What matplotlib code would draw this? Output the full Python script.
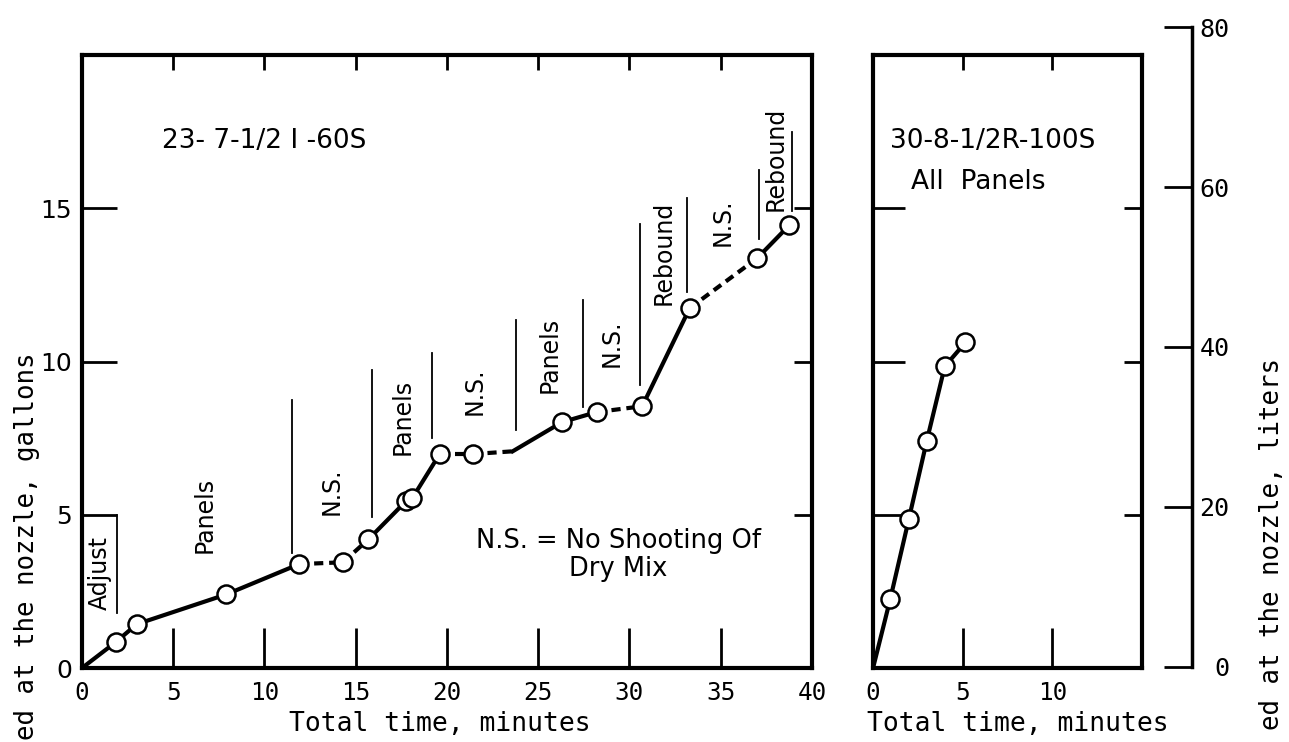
import matplotlib.pyplot as plt
from matplotlib.ticker import FixedLocator

# left panel, mix 23-7-1/2 I-60S : readings (minutes, gallons)
left_t = [1.86, 3.0, 7.9, 11.9, 14.3, 15.7, 17.75, 18.1, 19.6, 21.4,
          26.3, 28.2, 30.7, 33.3, 37.0, 38.75]
left_gal = [0.85, 1.43, 2.4, 3.39, 3.45, 4.2, 5.44, 5.54, 6.98, 6.98,
            8.02, 8.35, 8.54, 11.74, 13.37, 14.44]
# shooting resumed here, line bends without a reading
resume_t, resume_gal = 23.6, 7.07

# right panel, mix 30-8-1/2R-100S
right_t = [0.96, 2.0, 3.0, 4.0, 5.15]
right_gal = [2.25, 4.87, 7.42, 9.84, 10.62]

# phases of the left run: name, end time, extent of the divider line
phase_names = ["Adjust", "Panels", "N.S.", "Panels", "N.S.", "Panels",
               "N.S.", "Rebound", "N.S.", "Rebound"]
phase_end = [1.92, 11.5, 15.9, 19.2, 23.8, 27.45, 30.6, 33.15, 37.1, 38.9]
divider_lo = [1.8, 3.75, 4.92, 7.5, 7.76, 8.51, 9.23, 12.26, 14.0, 14.9]
divider_hi = [5.0, 8.74, 9.72, 10.27, 11.35, 12.0, 14.5, 15.32, 16.24, 17.48]

liters_ticks = [0, 20, 40, 60, 80]

# where the phase names sit (gallons)
label_gal = [3.1, 5.0, 5.77, 8.18, 9.03, 10.2, 10.6, 13.53, 14.54, 16.6]

MONO = "DejaVu Sans Mono"
SANS = "DejaVu Sans"


def phase_at(t):
    for name, end in zip(phase_names, phase_end):
        if t <= end:
            return name
    return phase_names[-1]


def draw_run(ax, t, g, use_phases):
    for i in range(len(t) - 1):
        ns = use_phases and phase_at((t[i] + t[i + 1]) / 2) == "N.S."
        ax.plot(t[i:i + 2], g[i:i + 2], color="k", lw=3,
                ls=(0, (2.2, 1.4)) if ns else "-", zorder=2)


def style_panel(ax, xmax, xticks, ylabels):
    ax.set_xlim(0, xmax)
    ax.set_ylim(0, 20)
    for s in ax.spines.values():
        s.set_linewidth(3)
    ax.xaxis.remove_overlapping_locs = False
    ax.yaxis.remove_overlapping_locs = False
    inner = [x for x in xticks if 0 < x < xmax]
    ax.set_xticks(xticks)
    ax.xaxis.set_minor_locator(FixedLocator(inner))
    ax.set_yticks([0, 5, 10, 15] if ylabels else [5, 10, 15])
    ax.yaxis.set_minor_locator(FixedLocator([5, 10, 15]))
    ax.tick_params(axis="x", which="major", direction="in", length=29,
                   width=2, bottom=True, top=False, pad=9, labelsize=17.5)
    ax.tick_params(axis="x", which="minor", direction="in", length=11,
                   width=2, bottom=False, top=True)
    ax.tick_params(axis="y", which="major", direction="in",
                   length=25 if ylabels else 23, width=2, left=True,
                   right=False, pad=7, labelsize=18, labelleft=ylabels)
    ax.tick_params(axis="y", which="minor", direction="in", length=13,
                   width=2, left=False, right=True)
    for lab in ax.get_xticklabels():
        lab.set_family(MONO)
    for lab in ax.get_yticklabels():
        lab.set_family(SANS)
    ax.set_xlabel("Total time, minutes", family=MONO, fontsize=19, labelpad=2)


fig = plt.figure(figsize=(12.89, 7.42), dpi=100)
axL = fig.add_axes([0.0636, 0.0997, 0.5663, 0.8262])
axR = fig.add_axes([0.6773, 0.0997, 0.2087, 0.8262])

# left panel
line_t = sorted([0] + left_t + [resume_t])
line_g = [0] + left_gal[:10] + [resume_gal] + left_gal[10:]
draw_run(axL, line_t, line_g, True)
axL.plot(left_t, left_gal, "o", ms=13, mfc="white", mec="k", mew=1.8, zorder=3)

start = 0
for name, end, lo, hi, yg in zip(phase_names, phase_end, divider_lo,
                                 divider_hi, label_gal):
    axL.plot([end, end], [lo, hi], color="k", lw=1.3, zorder=1)
    axL.text((start + end) / 2, yg, name, rotation=90, ha="center",
             va="center", family=SANS, fontsize=17)
    start = end

axL.text(4.4, 17.2, "23- 7-1/2 I -60S", family=SANS, fontsize=19,
         ha="left", va="center")
axL.text(29.4, 3.7, "N.S. = No Shooting Of\nDry Mix", family=SANS,
         fontsize=18.5, ha="center", va="center", linespacing=1.1)
style_panel(axL, 40, list(range(0, 41, 5)), True)
axL.xaxis.set_label_coords(0.49, -0.07)

# right panel
draw_run(axR, [0] + right_t, [0] + right_gal, False)
axR.plot(right_t, right_gal, "o", ms=13, mfc="white", mec="k", mew=1.8, zorder=3)
axR.text(0.95, 17.2, "30-8-1/2R-100S", family=SANS, fontsize=19,
         ha="left", va="center")
axR.text(2.1, 15.85, "All  Panels", family=SANS, fontsize=19,
         ha="left", va="center")
style_panel(axR, 15, [0, 5, 10], False)
axR.xaxis.set_label_coords(0.54, -0.07)

# liters scale
axLit = fig.add_axes([1182 / 1289, 0.1011, 10 / 1289, 0.8625])
axLit.patch.set_visible(False)
for s in ["left", "top", "bottom"]:
    axLit.spines[s].set_visible(False)
axLit.spines["right"].set_linewidth(2.5)
axLit.set_ylim(0, 80)
axLit.set_xticks([])
axLit.yaxis.tick_right()
axLit.set_yticks(liters_ticks)
axLit.tick_params(axis="y", direction="in", length=20, width=2, pad=27,
                  labelsize=18)
for lab in axLit.get_yticklabels():
    lab.set_family(MONO)
    lab.set_horizontalalignment("right")

fig.text(27 / 1289, 1 - 352 / 742, "ed at the nozzle, gallons", rotation=90,
         ha="center", va="top", family=MONO, fontsize=18.5)
fig.text(1272 / 1289, 1 - 358 / 742, "ed at the nozzle, liters", rotation=90,
         ha="center", va="top", family=MONO, fontsize=18.5)

fig.savefig("out.png", dpi=100)
plt.close(fig)
